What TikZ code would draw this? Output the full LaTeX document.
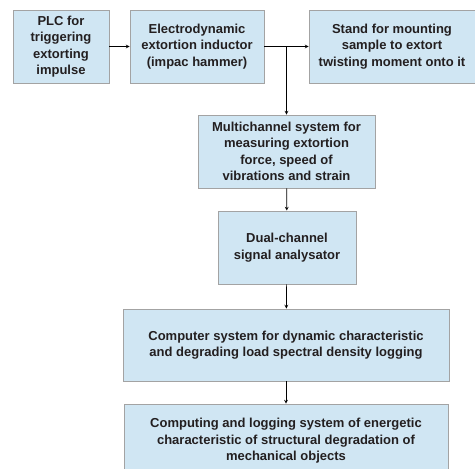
\documentclass[tikz,border=0pt]{standalone}
\usepackage{fontspec}
\setmainfont{Liberation Sans}
\usetikzlibrary{arrows}
\definecolor{boxfill}{HTML}{D0E6F3}
\definecolor{boxline}{HTML}{A3A3A3}
\definecolor{boxtext}{HTML}{231F20}
\begin{document}
\begin{tikzpicture}
[x=1pt,y=-1pt,
  boxdecorate/.style={shape=rectangle,draw=boxline,fill=boxfill,line width=0.8pt,
    inner sep=0pt,align=center,text=boxtext,
    font=\fontsize{13}{16.5}\selectfont\bfseries},%
  arrowdecorate/.style={->,>=stealth,line width=0.7pt,black}]
\clip (0,0) rectangle (475,469);
%% blocks
\foreach \nodename/\x/\y/\w/\h/\label in {
  plc/61/46.5/96/73/{PLC for\\triggering\\extorting\\impulse},
  inductor/197/46.5/134/73/{Electrodynamic\\extortion inductor\\(impac hammer)},
  stand/392/46.5/166/73/{Stand for mounting\\sample to extort\\twisting moment onto it},
  multi/286.5/151.5/177/73/{Multichannel system for\\measuring extortion\\force, speed of\\vibrations and strain},
  analyser/287/247.5/138/73/{Dual-channel\\signal analysator},
  computer/286/345/326/72/{Computer system for dynamic characteristic\\and degrading load spectral density logging},
  logging/286/441/324/74/{Computing and logging system of energetic\\characteristic of structural degradation of\\mechanical objects}}
{
  \node (\nodename) at (\x,\y) [boxdecorate,minimum width=\w pt,minimum height=\h pt] {\label};
}
\coordinate (split) at (multi.north |- inductor.east);
%% connections
\path
\foreach \startnode/\endnode in {plc/inductor, inductor/stand, split/multi,
  multi/analyser, analyser/computer, computer/logging} {
  (\startnode) edge[arrowdecorate] (\endnode)
};
\end{tikzpicture}
\end{document}
